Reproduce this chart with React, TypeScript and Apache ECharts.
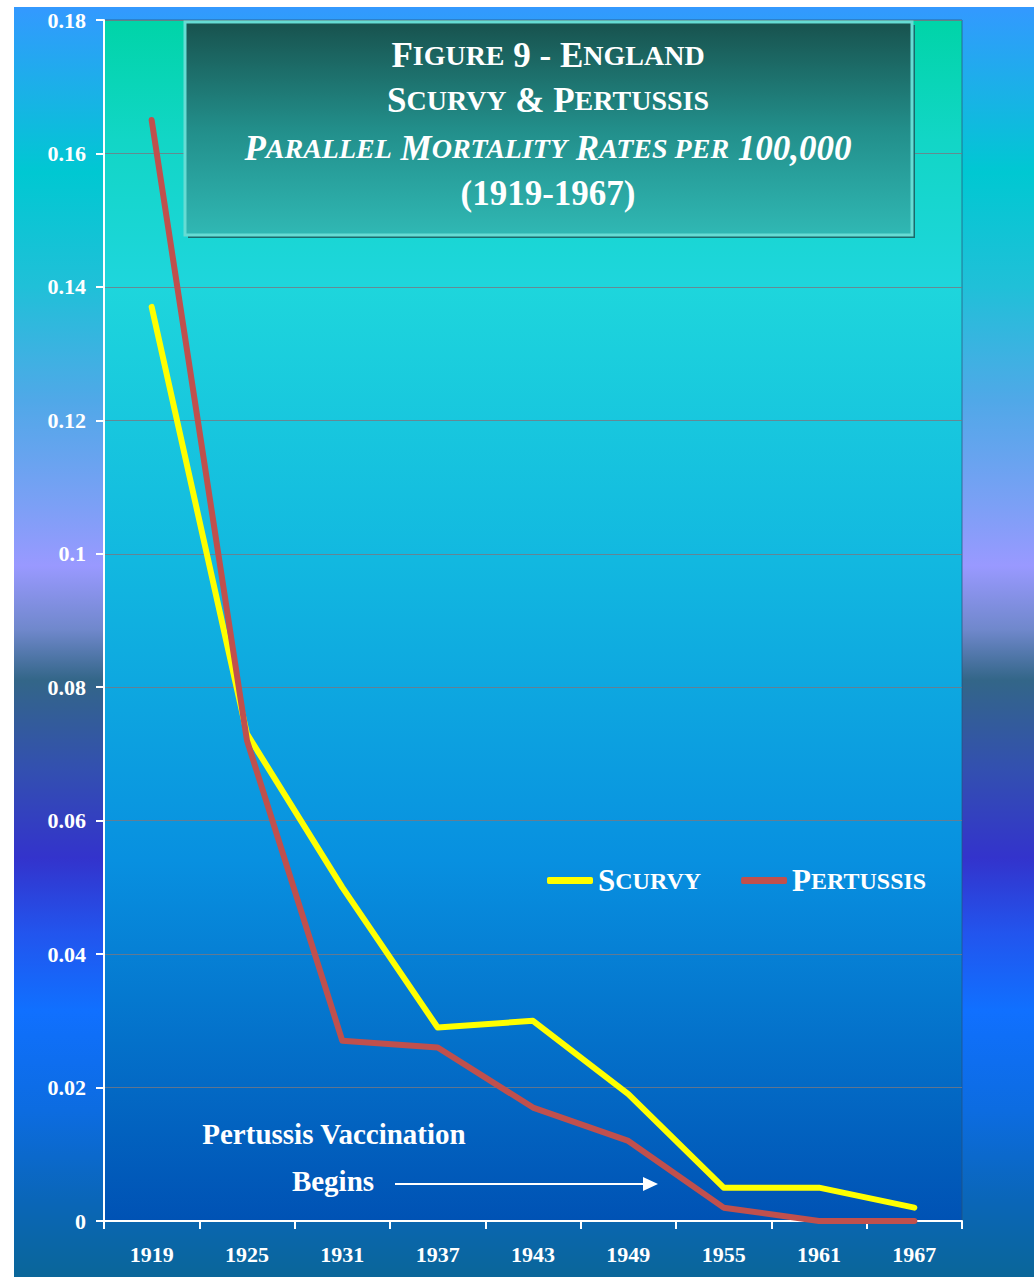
import React, { useEffect, useRef } from "react";
import * as echarts from "echarts";

const years = ["1919", "1925", "1931", "1937", "1943", "1949", "1955", "1961", "1967"];
const scurvy = [0.137, 0.073, 0.05, 0.029, 0.03, 0.019, 0.005, 0.005, 0.002];
const pertussis = [0.165, 0.072, 0.027, 0.026, 0.017, 0.012, 0.002, 0.0, 0.0];
const yMin = 0;
const yMax = 0.18;
const yStep = 0.02;

const SERIF = "'Liberation Serif', 'Times New Roman', serif";

export default function App() {
  const ref = useRef<HTMLDivElement>(null);
  useEffect(() => {
    if (!ref.current) return;
    const chart = echarts.init(ref.current, null, { renderer: "svg" });
    const big = { fill: "#ffffff", fontFamily: SERIF, fontWeight: "bold", fontSize: 35 };
    const small = { fill: "#ffffff", fontFamily: SERIF, fontWeight: "bold", fontSize: 28 };
    const bigI = { ...big, fontStyle: "italic" };
    const smallI = { ...small, fontStyle: "italic" };
    const rich = { B: big, s: small, I: bigI, i: smallI };
    const titleLine = (text: string, y: number) => ({
      type: "text",
      x: 534,
      y,
      z: 10,
      style: {
        text,
        rich,
        fill: "#ffffff",
        align: "center",
        verticalAlign: "middle",
        textAlign: "center",
        textVerticalAlign: "middle",
        font: `bold 35px ${SERIF}`,
      },
    });
    const annot = (text: string, x: number, y: number) => ({
      type: "text",
      x,
      y,
      z: 10,
      style: {
        text,
        fill: "#ffffff",
        font: `bold 29px ${SERIF}`,
        align: "center",
        verticalAlign: "middle",
        textAlign: "center",
        textVerticalAlign: "middle",
      },
    });
    chart.setOption({
      animation: false,
      backgroundColor: new echarts.graphic.LinearGradient(0, 0, 0, 1, [
        { offset: 0, color: "#3399ff" },
        { offset: 0.07, color: "#19b2e6" },
        { offset: 0.13, color: "#00c8d2" },
        { offset: 0.22, color: "#20c0d8" },
        { offset: 0.31, color: "#50a8e8" },
        { offset: 0.39, color: "#7aa0f5" },
        { offset: 0.44, color: "#9999ff" },
        { offset: 0.49, color: "#7088cc" },
        { offset: 0.53, color: "#336688" },
        { offset: 0.6, color: "#3350b0" },
        { offset: 0.67, color: "#3333cc" },
        { offset: 0.73, color: "#2255ee" },
        { offset: 0.79, color: "#1070ff" },
        { offset: 0.87, color: "#0c6ce0" },
        { offset: 0.94, color: "#0a66b8" },
        { offset: 1, color: "#0a6699" },
      ]),
      grid: {
        left: 90,
        top: 13,
        right: 72,
        bottom: 56,
        show: true,
        borderWidth: 1,
        borderColor: "rgba(40,80,120,0.7)",
        backgroundColor: new echarts.graphic.LinearGradient(0, 0, 0, 1, [
          { offset: 0, color: "#00d4a8" },
          { offset: 0.1, color: "#12d6c6" },
          { offset: 0.22, color: "#1ed6dc" },
          { offset: 0.45, color: "#12b8e0" },
          { offset: 0.7, color: "#0890e0" },
          { offset: 1, color: "#0052b4" },
        ]),
      },
      legend: {
        left: 528,
        top: 853,
        itemWidth: 46,
        itemHeight: 7,
        itemGap: 40,
        icon: "roundRect",
        formatter: (name: string) =>
          name === "Scurvy" ? "{a|S}{b|CURVY}" : "{a|P}{b|ERTUSSIS}",
        textStyle: {
          color: "#ffffff",
          fontFamily: SERIF,
          fontWeight: "bold",
          rich: {
            a: { color: "#ffffff", fontFamily: SERIF, fontWeight: "bold", fontSize: 31 },
            b: { color: "#ffffff", fontFamily: SERIF, fontWeight: "bold", fontSize: 24 },
          },
        },
        data: ["Scurvy", "Pertussis"],
      },
      xAxis: {
        type: "category",
        data: years,
        boundaryGap: true,
        axisLine: { show: true, lineStyle: { color: "#ffffff", width: 2 } },
        axisTick: { show: true, length: 8, lineStyle: { color: "#ffffff", width: 2 } },
        axisLabel: {
          color: "#ffffff",
          fontFamily: SERIF,
          fontWeight: "bold",
          fontSize: 22,
          margin: 22,
        },
        splitLine: { show: false },
      },
      yAxis: {
        type: "value",
        min: yMin,
        max: yMax,
        interval: yStep,
        axisLine: { show: true, lineStyle: { color: "#ffffff", width: 2 } },
        axisTick: { show: true, length: 8, lineStyle: { color: "#ffffff", width: 2 } },
        axisLabel: {
          color: "#ffffff",
          fontFamily: SERIF,
          fontWeight: "bold",
          fontSize: 22,
          margin: 18,
          formatter: (v: number) => String(parseFloat(v.toFixed(2))),
        },
        splitLine: { show: true, lineStyle: { color: "rgba(120,120,130,0.8)", width: 1 } },
      },
      series: [
        {
          name: "Scurvy",
          type: "line",
          data: scurvy,
          symbol: "none",
          showSymbol: false,
          itemStyle: { color: "#ffff00" },
          lineStyle: { color: "#ffff00", width: 6, cap: "round", join: "round" },
          z: 3,
        },
        {
          name: "Pertussis",
          type: "line",
          data: pertussis,
          symbol: "none",
          showSymbol: false,
          itemStyle: { color: "#c0504d" },
          lineStyle: { color: "#c0504d", width: 6, cap: "round", join: "round" },
          z: 4,
        },
      ],
      graphic: [
        {
          type: "rect",
          z: 5,
          shape: { x: 174, y: 18, width: 727, height: 213 },
          style: { fill: "#1a6a6c" },
        },
        {
          type: "rect",
          z: 6,
          shape: { x: 171, y: 15, width: 727, height: 213 },
          style: {
            fill: new echarts.graphic.LinearGradient(0, 0, 0, 1, [
              { offset: 0, color: "#18524e" },
              { offset: 0.5, color: "#228e8a" },
              { offset: 1, color: "#30b8b4" },
            ]),
            stroke: "#66dcd4",
            lineWidth: 3,
          },
        },
        titleLine("{B|F}{s|IGURE}{B| 9 - E}{s|NGLAND}", 48),
        titleLine("{B|S}{s|CURVY}{B| & P}{s|ERTUSSIS}", 93),
        titleLine("{I|P}{i|ARALLEL}{I| M}{i|ORTALITY}{I| R}{i|ATES PER}{I| 100,000}", 141),
        titleLine("{B|(1919-1967)}", 186),
        annot("Pertussis Vaccination", 320, 1127),
        annot("Begins", 319, 1174),
        {
          type: "line",
          z: 10,
          shape: { x1: 381, y1: 1177, x2: 632, y2: 1177 },
          style: { stroke: "#ffffff", lineWidth: 2 },
        },
        {
          type: "polygon",
          z: 10,
          shape: { points: [[629, 1170], [644, 1177], [629, 1184]] },
          style: { fill: "#ffffff" },
        },
      ],
    });
    return () => chart.dispose();
  }, []);
  return (
    <div
      style={{
        position: "fixed",
        left: 0,
        top: 0,
        width: 1034,
        height: 1277,
        background: "#ffffff",
        overflow: "hidden",
      }}
    >
      <div
        ref={ref}
        style={{ position: "absolute", left: 14, top: 7, width: 1020, height: 1270 }}
      />
    </div>
  );
}
